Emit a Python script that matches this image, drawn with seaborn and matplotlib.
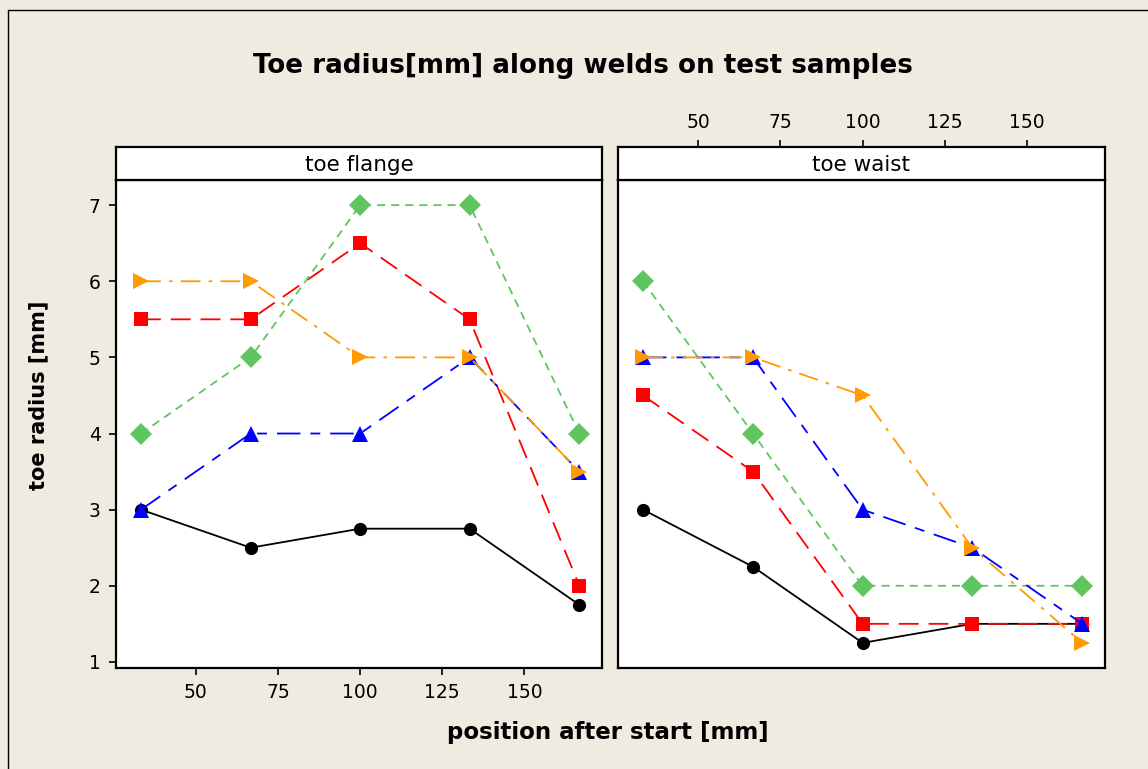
import pandas as pd
import matplotlib.pyplot as plt
import seaborn as sns
from matplotlib.lines import Line2D

# Data
positions = [33.3, 66.7, 100, 133.3, 166.7]
series = ['s1', 's2', 's3', 's4', 's5']
panels = ['toe flange', 'toe waist']

flange = {
    's1': [3.0, 2.5, 2.75, 2.75, 1.75],
    's2': [5.5, 5.5, 6.5, 5.5, 2.0],
    's3': [4.0, 5.0, 7.0, 7.0, 4.0],
    's4': [3.0, 4.0, 4.0, 5.0, 3.5],
    's5': [6.0, 6.0, 5.0, 5.0, 3.5],
}
waist = {
    's1': [3.0, 2.25, 1.25, 1.5, 1.5],
    's2': [4.5, 3.5, 1.5, 1.5, 1.5],
    's3': [6.0, 4.0, 2.0, 2.0, 2.0],
    's4': [5.0, 5.0, 3.0, 2.5, 1.5],
    's5': [5.0, 5.0, 4.5, 2.5, 1.25],
}

rows = []
for panel, vals in zip(panels, [flange, waist]):
    for s in series:
        for x, y in zip(positions, vals[s]):
            rows.append({'panel': panel, 'series': s, 'position': x, 'radius': y})
df = pd.DataFrame(rows)

palette = {'s1': 'black', 's2': '#ff0000', 's3': '#5fc65f', 's4': '#0000ff', 's5': '#ff9a00'}
markers = {'s1': 'o', 's2': 's', 's3': 'D', 's4': '^', 's5': '>'}
dashes = {'s1': '', 's2': (11, 5.5), 's3': (4.5, 3.3), 's4': (13, 5.5, 5.5, 5.5), 's5': (11, 4.5, 2, 4.5)}
msizes = {'s1': 9.5, 's2': 10, 's3': 11, 's4': 11.5, 's5': 11.5}

bg = '#efebe1'
sns.set_style('white')
plt.rcParams['font.family'] = ['DejaVu Sans']
plt.rcParams['text.color'] = 'black'
plt.rcParams['xtick.color'] = 'black'
plt.rcParams['ytick.color'] = 'black'

W, H = 1148, 769
fig = plt.figure(figsize=(W / 100, H / 100), dpi=100)
fig.patch.set_facecolor(bg)

# outer frame (only the left and top edges are visible)
fig.add_artist(Line2D([8 / W, 8 / W], [0, 1 - 10 / H], color='black', lw=1, transform=fig.transFigure))
fig.add_artist(Line2D([8 / W, 1], [1 - 10 / H, 1 - 10 / H], color='black', lw=1, transform=fig.transFigure))

boxes = [(116, 602), (618, 1105)]
top, strip_bot, bottom = 147, 180, 668
xlim = (25.7, 173.6)
ylim = (0.92, 7.33)

for i, (panel, (x0, x1)) in enumerate(zip(panels, boxes)):
    ax = fig.add_axes([x0 / W, (H - bottom) / H, (x1 - x0) / W, (bottom - strip_bot) / H])
    sub = df[df['panel'] == panel]
    sns.lineplot(data=sub, x='position', y='radius', hue='series', style='series',
                 hue_order=series, style_order=series, palette=palette, markers=markers,
                 dashes=dashes, markeredgewidth=0, linewidth=1.3, ax=ax, legend=False)
    for line, s in zip(ax.lines, series):
        line.set_markersize(msizes[s])
    ax.set_xlim(xlim)
    ax.set_ylim(ylim)
    ax.set_xlabel('')
    ax.set_ylabel('')
    ax.set_facecolor('white')
    for sp in ax.spines.values():
        sp.set_linewidth(1.6)
        sp.set_color('black')
    ax.set_xticks([50, 75, 100, 125, 150])
    ax.set_yticks([1, 2, 3, 4, 5, 6, 7])
    ax.tick_params(direction='out', length=5, width=1.2, labelsize=13.5, pad=6)
    if i == 0:
        ax.tick_params(axis='x', bottom=True)
        ax.tick_params(axis='y', left=True)
    else:
        ax.tick_params(axis='x', bottom=False, labelbottom=False)
        ax.tick_params(axis='y', left=False, labelleft=False)

    # strip header
    sax = fig.add_axes([x0 / W, (H - strip_bot) / H, (x1 - x0) / W, (strip_bot - top) / H])
    sax.set_facecolor('white')
    sax.set_xlim(xlim)
    sax.set_yticks([])
    for sp in sax.spines.values():
        sp.set_linewidth(1.6)
        sp.set_color('black')
    sax.text(0.5, 0.45, panel, transform=sax.transAxes, ha='center', va='center', fontsize=15.5)
    sax.set_xticks([50, 75, 100, 125, 150])
    if i == 1:
        sax.tick_params(axis='x', top=True, labeltop=True, bottom=False, labelbottom=False,
                        direction='out', length=5, width=1.2, labelsize=13.5, pad=6)
    else:
        sax.tick_params(axis='x', bottom=False, labelbottom=False)

fig.text(583 / W, 1 - 66 / H, 'Toe radius[mm] along welds on test samples', ha='center', va='center',
         fontsize=18.8, fontweight='bold')
fig.text(608 / W, 1 - 733 / H, 'position after start [mm]', ha='center', va='center',
         fontsize=16.5, fontweight='bold')
fig.text(38 / W, 1 - 395 / H, 'toe radius [mm]', ha='center', va='center', rotation=90,
         fontsize=15, fontweight='bold')

fig.savefig('out.png', dpi=100, facecolor=bg)
